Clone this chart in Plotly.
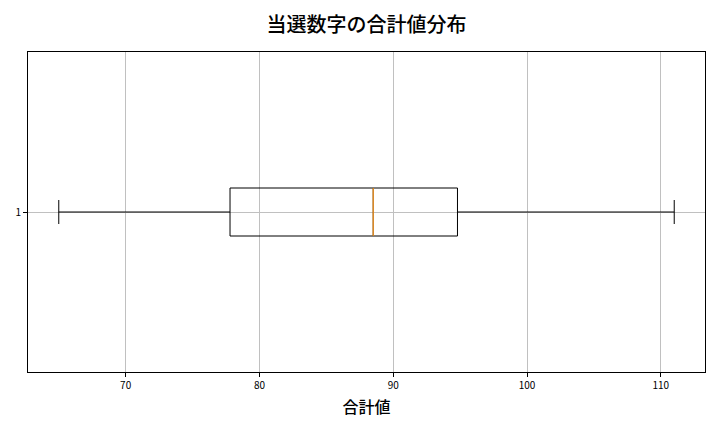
import plotly.graph_objects as go

# 合計値の五数要約 (箱ひげ図)
positions = [1]
lower_fence = [65]
q1 = [77.8]
median = [88.5]
q3 = [94.8]
upper_fence = [111]

font = "Noto Sans CJK JP"

fig = go.Figure()
fig.add_trace(go.Box(
    y=positions, q1=q1, median=median, q3=q3,
    lowerfence=lower_fence, upperfence=upper_fence,
    orientation="h", width=0.15, whiskerwidth=0.5,
    fillcolor="rgba(0,0,0,0)", line=dict(color="black", width=1),
    boxpoints=False, hoverinfo="x",
))
# 中央値の線 (オレンジ)
fig.add_trace(go.Scatter(
    x=[median[0], median[0]], y=[positions[0] - 0.075, positions[0] + 0.075],
    mode="lines", line=dict(color="#ff9a1e", width=1.2), hoverinfo="skip",
))

fig.update_layout(
    width=720, height=432,
    margin=dict(l=28, r=15, t=52, b=60),
    paper_bgcolor="white", plot_bgcolor="white",
    showlegend=False,
    font=dict(family=font, color="black"),
    title=dict(text="当選数字の合計値分布", x=0.5, xref="paper", xanchor="center",
               y=0.942, yanchor="middle",
               font=dict(size=20, family=font, weight=500)),
)
fig.update_xaxes(
    range=[62.7, 113.3], tickvals=[70, 80, 90, 100, 110],
    showgrid=True, gridcolor="#c0c0c0", gridwidth=1,
    showline=True, linecolor="black", linewidth=1, mirror=True,
    ticks="outside", ticklen=4, tickcolor="black", tickfont=dict(size=10),
    title=dict(text="合計値", font=dict(size=16, weight=500), standoff=10),
    zeroline=False, automargin=False,
)
fig.update_yaxes(
    range=[0.5, 1.5], tickvals=[1], ticktext=["1"],
    showgrid=True, gridcolor="#c0c0c0", gridwidth=1,
    showline=True, linecolor="black", linewidth=1, mirror=True,
    ticks="outside", ticklen=4, tickcolor="black", tickfont=dict(size=10),
    zeroline=False, automargin=False,
)

fig.write_html("out.html", config={"displayModeBar": False},
               post_script="document.body.style.margin='0';")
